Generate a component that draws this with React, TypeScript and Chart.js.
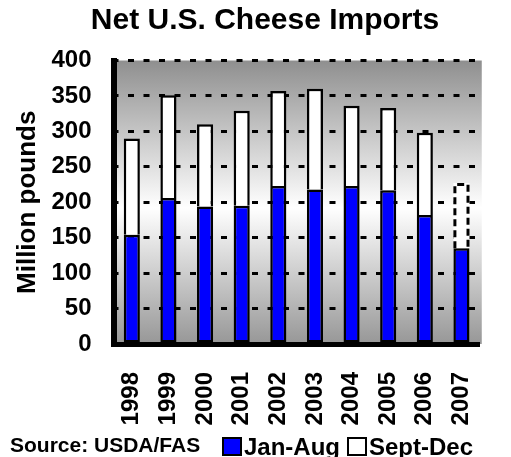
import React, { useEffect, useRef } from 'react';
import { Chart, registerables } from 'chart.js';

Chart.register(...registerables);

// ---- data ----
const years = ['1998', '1999', '2000', '2001', '2002', '2003', '2004', '2005', '2006', '2007'];
const janAug = [154, 206, 194, 195, 223, 218, 223, 217, 182, 135];
const septDec = [136, 145, 116, 134, 134, 142, 113, 116, 116, 92];
const projectedYears = ['2007'];
const seriesLabels = ['Jan-Aug', 'Sept-Dec'];
const titleText = 'Net U.S. Cheese Imports';
const yTitle = 'Million pounds';
const sourceText = 'Source: USDA/FAS';
const yMin = 0;
const yMax = 400;
const yStep = 50;

const FAMILY = "'Liberation Sans', Arial, Helvetica, sans-serif";
const BLUE = '#0000ff';

const isProjected = (i: number) => projectedYears.includes(years[i]);

const plotBackground = {
  id: 'plotBackground',
  beforeDraw(chart: any) {
    const { ctx, chartArea: a } = chart;
    const g = ctx.createLinearGradient(0, a.top, 0, a.bottom);
    g.addColorStop(0, '#8f8f8f');
    g.addColorStop(0.52, '#ffffff');
    g.addColorStop(1, '#979797');
    ctx.save();
    ctx.fillStyle = g;
    ctx.fillRect(a.left, a.top, a.right - a.left + 2, a.bottom - a.top);
    ctx.restore();
  },
};

const projectedOutline = {
  id: 'projectedOutline',
  afterDatasetsDraw(chart: any) {
    const { ctx } = chart;
    const meta = chart.getDatasetMeta(1);
    meta.data.forEach((el: any, i: number) => {
      if (!isProjected(i)) return;
      const { x, y, base, width } = el.getProps(['x', 'y', 'base', 'width'], true);
      const l = x - width / 2 + 1.5;
      const r = x + width / 2 - 1.5;
      const t = y + 1.5;
      ctx.save();
      ctx.strokeStyle = '#000';
      ctx.lineWidth = 3;
      ctx.setLineDash([7, 4]);
      ctx.beginPath();
      ctx.moveTo(l, base);
      ctx.lineTo(l, t);
      ctx.lineTo(r, t);
      ctx.lineTo(r, base);
      ctx.stroke();
      ctx.restore();
    });
  },
};

const footerLegend = {
  id: 'footerLegend',
  afterDraw(chart: any) {
    const { ctx } = chart;
    ctx.save();
    ctx.fillStyle = '#000';
    ctx.textBaseline = 'alphabetic';
    ctx.textAlign = 'left';
    ctx.font = `bold 21px ${FAMILY}`;
    ctx.fillText(sourceText, 10, 452);
    const items = [
      { box: 223, text: 244 },
      { box: 348, text: 369 },
    ];
    chart.data.datasets.forEach((ds: any, i: number) => {
      const pos = items[i];
      if (!pos) return;
      ctx.fillStyle = Array.isArray(ds.backgroundColor) ? ds.backgroundColor[0] : ds.backgroundColor;
      ctx.fillRect(pos.box, 438, 18, 17);
      ctx.strokeStyle = '#000';
      ctx.lineWidth = 2;
      ctx.strokeRect(pos.box, 438, 18, 17);
      ctx.fillStyle = '#000';
      ctx.font = `bold 24px ${FAMILY}`;
      ctx.fillText(ds.label, pos.text, 455);
    });
    ctx.restore();
  },
};

export default function App() {
  const ref = useRef<HTMLCanvasElement | null>(null);

  useEffect(() => {
    if (!ref.current) return;
    const tickFont = { family: FAMILY, size: 24, weight: 'bold' as const };
    const chart = new Chart(ref.current, {
      type: 'bar',
      data: {
        labels: years,
        datasets: [
          {
            label: seriesLabels[0],
            data: janAug,
            backgroundColor: BLUE,
            borderColor: '#000',
            borderWidth: 2.5,
            borderSkipped: false,
            barPercentage: 0.44,
            categoryPercentage: 1,
          },
          {
            label: seriesLabels[1],
            data: septDec,
            backgroundColor: '#ffffff',
            borderColor: '#000',
            borderWidth: (c: any) => (c.dataIndex !== undefined && isProjected(c.dataIndex) ? 0 : 2.5),
            borderSkipped: 'bottom',
            barPercentage: 0.44,
            categoryPercentage: 1,
          },
        ],
      },
      options: {
        animation: false,
        responsive: false,
        devicePixelRatio: 1,
        layout: { padding: { left: 34, right: 15, top: 0, bottom: 0 } },
        plugins: {
          legend: { display: false },
          tooltip: { enabled: false },
          title: {
            display: true,
            text: titleText,
            color: '#000',
            font: { family: FAMILY, size: 30, weight: 'bold', lineHeight: 1.2 },
            padding: { top: 2.5, bottom: 22 },
          },
        },
        scales: {
          x: {
            stacked: true,
            grid: { display: false },
            border: { display: true, color: '#000', width: 5, z: 1 },
            ticks: {
              color: '#000',
              font: tickFont,
              minRotation: 90,
              maxRotation: 90,
              autoSkip: false,
              padding: 20,
            },
            afterFit: (s: any) => {
              s.height = 113;
            },
          },
          y: {
            stacked: true,
            min: yMin,
            max: yMax,
            ticks: { stepSize: yStep, color: '#000', font: tickFont, padding: 22 },
            grid: { color: '#000', lineWidth: 3, drawTicks: false },
            border: { display: true, color: '#000', width: 6, dash: [6, 9.5], dashOffset: 4.5, z: 1 },
            title: {
              display: true,
              text: yTitle,
              color: '#000',
              font: { family: FAMILY, size: 26, weight: 'bold', lineHeight: 1.2 },
              padding: { top: -22, bottom: 0 },
            },
            afterFit: (s: any) => {
              s.width = 79.5;
            },
          },
        },
      },
      plugins: [plotBackground, projectedOutline, footerLegend],
    });
    return () => chart.destroy();
  }, []);

  return (
    <div style={{ position: 'absolute', left: 0, top: 0, width: 511, height: 457 }}>
      <canvas ref={ref} width={511} height={457} style={{ display: 'block' }} />
    </div>
  );
}
